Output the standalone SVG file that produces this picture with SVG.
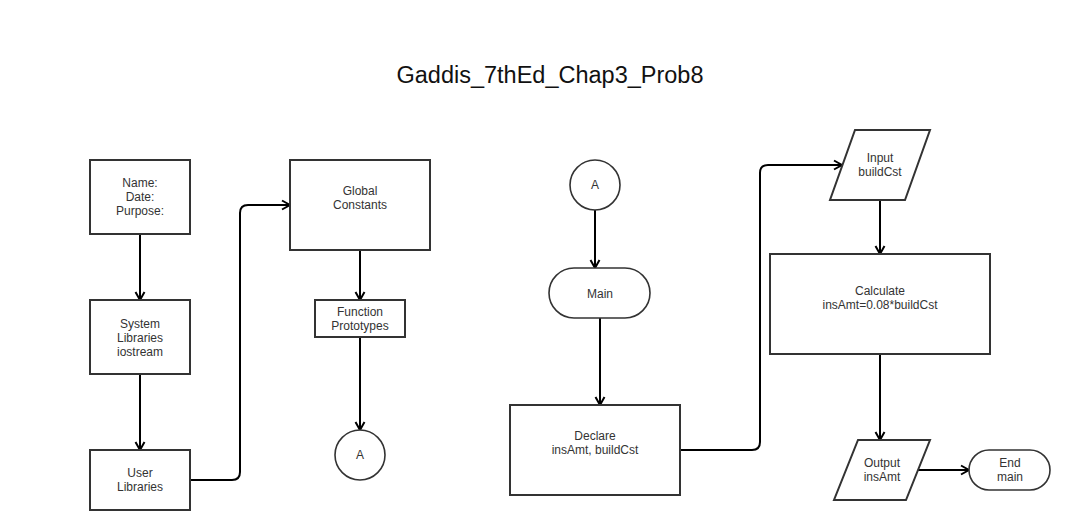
<svg xmlns="http://www.w3.org/2000/svg" width="1076" height="530" viewBox="0 0 1076 530">
<defs>
<style>
.box{fill:#fff;stroke:#333;stroke-width:2}
.rnd{fill:#fff;stroke:#333;stroke-width:1.6}
.t{font-family:"Liberation Sans",Arial,sans-serif;font-size:12px;fill:#333;text-anchor:middle}
.title{font-family:"Liberation Sans",Arial,sans-serif;font-size:23.5px;fill:#111;text-anchor:middle}
.c{fill:none;stroke:#000;stroke-width:2;marker-end:url(#arr)}
</style>
<marker id="arr" markerUnits="userSpaceOnUse" markerWidth="12" markerHeight="12" refX="10" refY="6" orient="auto">
<path d="M2,1.5 L10,6 L2,10.5" fill="none" stroke="#000" stroke-width="2"/>
</marker>
</defs>
<rect width="1076" height="530" fill="#fff"/>
<text class="title" x="550" y="83">Gaddis_7thEd_Chap3_Prob8</text>

<g id="connectors">
<path class="c" d="M140,234 V300"/>
<path class="c" d="M140,374 V450"/>
<path class="c" d="M190,480 H232 Q240,480 240,472 V213 Q240,205 248,205 H290"/>
<path class="c" d="M360,250 V300"/>
<path class="c" d="M360,337 V430"/>
<path class="c" d="M595,210 V268"/>
<path class="c" d="M600,318 V405"/>
<path class="c" d="M680,450 H752 Q760,450 760,442 V173 Q760,165 768,165 H842"/>
<path class="c" d="M880,200 V254"/>
<path class="c" d="M880,354 V440"/>
<path class="c" d="M918,470 H969"/>
</g>

<g id="header">
<rect class="box" x="90" y="160" width="100" height="74"/>
<text class="t" x="140" y="187">Name:</text>
<text class="t" x="140" y="201">Date:</text>
<text class="t" x="140" y="215">Purpose:</text>
</g>
<g id="syslib">
<rect class="box" x="90" y="300" width="100" height="74"/>
<text class="t" x="140" y="328">System</text>
<text class="t" x="140" y="342">Libraries</text>
<text class="t" x="140" y="356">iostream</text>
</g>
<g id="userlib">
<rect class="box" x="90" y="450" width="100" height="60"/>
<text class="t" x="140" y="477">User</text>
<text class="t" x="140" y="491">Libraries</text>
</g>
<g id="globals">
<rect class="box" x="290" y="160" width="140" height="90"/>
<text class="t" x="360" y="195">Global</text>
<text class="t" x="360" y="209">Constants</text>
</g>
<g id="protos">
<rect class="box" x="315" y="300" width="90" height="37"/>
<text class="t" x="360" y="316">Function</text>
<text class="t" x="360" y="330">Prototypes</text>
</g>
<g id="connA1">
<circle class="rnd" cx="360" cy="455" r="25"/>
<text class="t" x="360" y="459">A</text>
</g>
<g id="connA2">
<circle class="rnd" cx="595" cy="185" r="25"/>
<text class="t" x="595" y="189">A</text>
</g>
<g id="main">
<rect class="rnd" x="549" y="268" width="101" height="50" rx="25" ry="25"/>
<text class="t" x="600" y="298">Main</text>
</g>
<g id="declare">
<rect class="box" x="510" y="405" width="170" height="90"/>
<text class="t" x="595" y="440">Declare</text>
<text class="t" x="595" y="454">insAmt, buildCst</text>
</g>
<g id="input">
<polygon class="box" points="855,130 930,130 905,200 830,200"/>
<text class="t" x="880" y="162">Input</text>
<text class="t" x="880" y="176">buildCst</text>
</g>
<g id="calc">
<rect class="box" x="770" y="254" width="220" height="100"/>
<text class="t" x="880" y="295">Calculate</text>
<text class="t" x="880" y="309">insAmt=0.08*buildCst</text>
</g>
<g id="output">
<polygon class="box" points="858,440 930,440 906,500 834,500"/>
<text class="t" x="882" y="467">Output</text>
<text class="t" x="882" y="481">insAmt</text>
</g>
<g id="endmain">
<rect class="rnd" x="969" y="450" width="81" height="40" rx="20" ry="20"/>
<text class="t" x="1010" y="467">End</text>
<text class="t" x="1010" y="481">main</text>
</g>
</svg>
